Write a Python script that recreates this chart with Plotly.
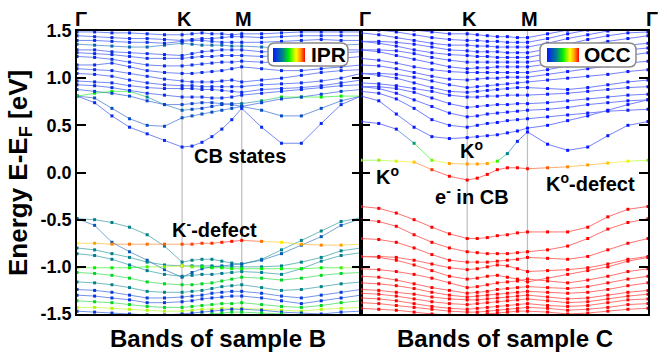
import plotly.graph_objects as go
from plotly.colors import sample_colorscale

# -----------------------------------------------------------------------------
# Data: band energies (eV) along the path G-K-M-G
# -----------------------------------------------------------------------------
K_PATH = [0.0, 0.062, 0.123, 0.185, 0.247, 0.308, 0.370, 0.405, 0.440, 0.475,
          0.510, 0.545, 0.580, 0.650, 0.720, 0.790, 0.860, 0.930, 1.0]
HS_POINTS = [0.370, 0.580]          # K, M
Y_TICKS = [-1.5, -1.0, -0.5, 0.0, 0.5, 1.0, 1.5]
Y_LABELS = ['-1.5', '-1.0', '-0.5', '0.0', '0.5', '1.0', '1.5']

# sample B (colour = IPR)
BANDS_B = [
    [0.81, 0.74, 0.60, 0.48, 0.41, 0.34, 0.27, 0.28, 0.32, 0.38, 0.46, 0.56, 0.68, 0.48, 0.31, 0.31, 0.52, 0.72, 0.81],
    [0.81, 0.79, 0.68, 0.57, 0.50, 0.49, 0.58, 0.60, 0.62, 0.64, 0.66, 0.68, 0.70, 0.66, 0.60, 0.60, 0.68, 0.76, 0.81],
    [0.81, 0.84, 0.86, 0.86, 0.80, 0.72, 0.66, 0.67, 0.68, 0.70, 0.72, 0.73, 0.73, 0.76, 0.80, 0.80, 0.80, 0.81, 0.81],
    [0.88, 0.86, 0.84, 0.81, 0.76, 0.72, 0.72, 0.73, 0.74, 0.74, 0.73, 0.72, 0.70, 0.74, 0.78, 0.80, 0.83, 0.86, 0.88],
    [0.93, 0.92, 0.90, 0.87, 0.84, 0.82, 0.80, 0.80, 0.80, 0.79, 0.79, 0.80, 0.82, 0.84, 0.86, 0.88, 0.90, 0.92, 0.93],
    [0.97, 0.96, 0.95, 0.92, 0.90, 0.89, 0.89, 0.89, 0.88, 0.88, 0.87, 0.86, 0.85, 0.88, 0.89, 0.90, 0.92, 0.95, 0.98],
    [1.05, 1.04, 1.02, 0.98, 0.95, 0.93, 0.92, 0.92, 0.91, 0.91, 0.91, 0.91, 0.91, 0.93, 0.94, 0.95, 0.97, 1.00, 1.05],
    [1.10, 1.09, 1.08, 1.05, 1.02, 0.99, 0.97, 0.96, 0.96, 0.96, 0.97, 0.98, 0.96, 0.98, 1.00, 1.03, 1.06, 1.08, 1.09],
    [1.14, 1.14, 1.16, 1.12, 1.08, 1.06, 1.05, 1.05, 1.06, 1.07, 1.08, 1.10, 1.12, 1.10, 1.08, 1.08, 1.10, 1.12, 1.14],
    [1.23, 1.22, 1.20, 1.17, 1.14, 1.13, 1.13, 1.14, 1.15, 1.16, 1.17, 1.17, 1.18, 1.17, 1.16, 1.17, 1.19, 1.21, 1.23],
    [1.27, 1.26, 1.25, 1.23, 1.21, 1.21, 1.21, 1.22, 1.23, 1.23, 1.24, 1.24, 1.24, 1.23, 1.24, 1.25, 1.26, 1.27, 1.28],
    [1.30, 1.30, 1.28, 1.27, 1.26, 1.25, 1.24, 1.26, 1.28, 1.29, 1.30, 1.30, 1.30, 1.28, 1.28, 1.29, 1.30, 1.30, 1.30],
    [1.36, 1.35, 1.34, 1.33, 1.33, 1.35, 1.37, 1.36, 1.35, 1.35, 1.35, 1.34, 1.34, 1.33, 1.32, 1.33, 1.34, 1.35, 1.36],
    [1.40, 1.40, 1.39, 1.38, 1.38, 1.37, 1.39, 1.40, 1.40, 1.39, 1.38, 1.38, 1.38, 1.38, 1.39, 1.40, 1.41, 1.40, 1.40],
    [1.45, 1.44, 1.43, 1.42, 1.42, 1.41, 1.40, 1.41, 1.42, 1.42, 1.43, 1.44, 1.44, 1.43, 1.44, 1.45, 1.45, 1.45, 1.45],
    [1.49, 1.49, 1.48, 1.48, 1.47, 1.46, 1.46, 1.47, 1.48, 1.47, 1.47, 1.46, 1.47, 1.47, 1.48, 1.49, 1.49, 1.49, 1.49],
    [-0.49, -0.50, -0.53, -0.58, -0.66, -0.78, -0.95, -0.93, -0.92, -0.92, -0.94, -0.96, -0.97, -0.92, -0.82, -0.72, -0.62, -0.52, -0.48],
    [-0.49, -0.56, -0.74, -0.84, -0.93, -1.03, -1.11, -1.06, -1.02, -1.00, -0.99, -0.98, -0.97, -0.93, -0.86, -0.77, -0.68, -0.56, -0.49],
    [-0.75, -0.75, -0.76, -0.76, -0.76, -0.76, -0.76, -0.76, -0.75, -0.75, -0.74, -0.73, -0.72, -0.73, -0.74, -0.76, -0.77, -0.77, -0.76],
    [-0.80, -0.82, -0.86, -0.90, -0.95, -0.98, -0.99, -0.99, -0.99, -0.99, -1.00, -1.00, -1.00, -1.00, -0.99, -0.95, -0.90, -0.83, -0.80],
    [-0.86, -0.88, -0.92, -0.98, -1.04, -1.08, -1.10, -1.09, -1.08, -1.08, -1.07, -1.06, -1.05, -1.06, -1.08, -1.02, -0.94, -0.88, -0.85],
    [-1.01, -1.01, -1.01, -1.01, -1.00, -1.00, -0.99, -1.00, -1.00, -1.01, -1.01, -1.02, -1.02, -1.02, -1.02, -1.02, -1.01, -1.01, -1.01],
    [-1.06, -1.07, -1.09, -1.12, -1.16, -1.18, -1.19, -1.19, -1.18, -1.17, -1.15, -1.13, -1.11, -1.12, -1.14, -1.12, -1.09, -1.07, -1.06],
    [-1.16, -1.17, -1.19, -1.22, -1.26, -1.27, -1.27, -1.26, -1.25, -1.23, -1.21, -1.20, -1.19, -1.22, -1.25, -1.24, -1.21, -1.18, -1.16],
    [-1.24, -1.25, -1.27, -1.30, -1.33, -1.33, -1.32, -1.31, -1.30, -1.28, -1.27, -1.26, -1.26, -1.28, -1.31, -1.33, -1.30, -1.27, -1.24],
    [-1.30, -1.31, -1.33, -1.35, -1.38, -1.38, -1.37, -1.36, -1.34, -1.33, -1.32, -1.31, -1.31, -1.33, -1.36, -1.39, -1.36, -1.33, -1.30],
    [-1.36, -1.37, -1.38, -1.40, -1.42, -1.43, -1.43, -1.42, -1.41, -1.40, -1.39, -1.39, -1.38, -1.40, -1.42, -1.43, -1.41, -1.38, -1.36],
    [-1.43, -1.43, -1.44, -1.45, -1.46, -1.47, -1.47, -1.46, -1.45, -1.45, -1.44, -1.44, -1.44, -1.45, -1.46, -1.47, -1.45, -1.44, -1.43],
    [-1.47, -1.48, -1.49, -1.50, -1.51, -1.51, -1.50, -1.49, -1.48, -1.47, -1.46, -1.45, -1.45, -1.46, -1.48, -1.49, -1.50, -1.48, -1.47],
    [-1.52, -1.52, -1.52, -1.52, -1.52, -1.52, -1.52, -1.52, -1.51, -1.50, -1.49, -1.48, -1.48, -1.49, -1.50, -1.51, -1.52, -1.52, -1.52],
]
IPR_B = [
    0.05, 0.15,
    [0.5, 0.5, 0.5, 0.45, 0.3, 0.25, 0.2, 0.15, 0.12, 0.1, 0.1, 0.15, 0.25, 0.35, 0.45, 0.5, 0.5, 0.5, 0.5],
    0.12, 0.05, 0.05, 0.05, 0.05, 0.05, 0.05, 0.05, 0.05, 0.22, 0.05, 0.05, 0.05,
    0.3, 0.18,
    [0.72, 0.85, 0.88, 0.9, 0.9, 0.92, 0.93, 0.94, 0.95, 0.96, 0.97, 0.98, 0.98, 0.9, 0.75, 0.85, 0.88, 0.85, 0.72],
    0.3, 0.28,
    [0.6, 0.5, 0.5, 0.5, 0.55, 0.6, 0.7, 0.6, 0.5, 0.5, 0.5, 0.5, 0.5, 0.5, 0.5, 0.5, 0.5, 0.55, 0.6],
    0.45, 0.3, 0.1, 0.08, 0.45, 0.65, 0.1, 0.45,
]

# sample C (colour = OCC)
BANDS_C = [
    [0.54, 0.52, 0.46, 0.31, 0.13, 0.095, 0.09, 0.09, 0.095, 0.12, 0.20, 0.33, 0.43, 0.30, 0.235, 0.27, 0.39, 0.50, 0.54],
    [0.13, 0.13, 0.12, 0.11, 0.03, -0.04, -0.08, -0.06, -0.02, 0.03, 0.05, 0.05, 0.04, 0.05, 0.06, 0.08, 0.10, 0.12, 0.13],
    [0.81, 0.76, 0.62, 0.48, 0.38, 0.36, 0.37, 0.38, 0.39, 0.40, 0.42, 0.44, 0.47, 0.50, 0.55, 0.60, 0.66, 0.72, 0.77],
    [0.86, 0.84, 0.78, 0.68, 0.56, 0.50, 0.48, 0.50, 0.52, 0.53, 0.55, 0.56, 0.57, 0.59, 0.61, 0.63, 0.65, 0.66, 0.67],
    [0.91, 0.89, 0.84, 0.77, 0.70, 0.63, 0.59, 0.60, 0.62, 0.63, 0.64, 0.65, 0.66, 0.67, 0.69, 0.72, 0.74, 0.76, 0.77],
    [0.91, 0.91, 0.89, 0.85, 0.79, 0.73, 0.69, 0.70, 0.71, 0.72, 0.72, 0.73, 0.73, 0.74, 0.76, 0.78, 0.80, 0.82, 0.83],
    [0.95, 0.94, 0.92, 0.89, 0.86, 0.82, 0.80, 0.80, 0.81, 0.81, 0.82, 0.82, 0.82, 0.83, 0.84, 0.86, 0.88, 0.90, 0.91],
    [1.05, 1.03, 1.00, 0.95, 0.90, 0.86, 0.85, 0.86, 0.87, 0.88, 0.89, 0.90, 0.90, 0.89, 0.88, 0.90, 0.93, 0.96, 0.98],
    [1.05, 1.05, 1.04, 1.01, 0.97, 0.93, 0.90, 0.91, 0.92, 0.93, 0.94, 0.95, 0.96, 0.98, 1.00, 1.02, 1.04, 1.07, 1.09],
    [1.14, 1.13, 1.10, 1.06, 1.02, 0.99, 0.98, 0.99, 1.00, 1.00, 1.01, 1.01, 1.01, 1.04, 1.07, 1.10, 1.13, 1.16, 1.18],
    [1.21, 1.19, 1.16, 1.12, 1.09, 1.07, 1.06, 1.06, 1.06, 1.06, 1.06, 1.06, 1.06, 1.09, 1.13, 1.17, 1.21, 1.24, 1.27],
    [1.30, 1.28, 1.24, 1.20, 1.16, 1.12, 1.10, 1.11, 1.11, 1.12, 1.12, 1.12, 1.12, 1.15, 1.19, 1.23, 1.27, 1.30, 1.32],
    [1.30, 1.30, 1.29, 1.26, 1.22, 1.19, 1.17, 1.17, 1.17, 1.17, 1.17, 1.17, 1.17, 1.20, 1.25, 1.29, 1.33, 1.35, 1.37],
    [1.39, 1.37, 1.34, 1.30, 1.27, 1.25, 1.24, 1.23, 1.23, 1.22, 1.22, 1.22, 1.22, 1.26, 1.30, 1.35, 1.39, 1.42, 1.45],
    [1.39, 1.39, 1.38, 1.36, 1.33, 1.30, 1.29, 1.28, 1.28, 1.28, 1.27, 1.27, 1.27, 1.31, 1.36, 1.41, 1.45, 1.48, 1.49],
    [1.48, 1.46, 1.43, 1.40, 1.37, 1.35, 1.35, 1.34, 1.34, 1.33, 1.33, 1.33, 1.33, 1.37, 1.42, 1.46, 1.50, 1.52, 1.53],
    [1.52, 1.51, 1.49, 1.46, 1.43, 1.41, 1.40, 1.40, 1.39, 1.39, 1.38, 1.38, 1.38, 1.42, 1.47, 1.51, 1.54, 1.56, 1.57],
    [1.56, 1.55, 1.53, 1.51, 1.49, 1.47, 1.47, 1.46, 1.45, 1.44, 1.44, 1.43, 1.43, 1.47, 1.51, 1.55, 1.58, 1.60, 1.61],
    [-0.36, -0.38, -0.43, -0.50, -0.58, -0.65, -0.70, -0.70, -0.69, -0.67, -0.66, -0.64, -0.63, -0.63, -0.63, -0.58, -0.47, -0.39, -0.36],
    [-0.50, -0.52, -0.57, -0.66, -0.74, -0.80, -0.84, -0.85, -0.86, -0.86, -0.86, -0.85, -0.84, -0.82, -0.78, -0.70, -0.60, -0.53, -0.49],
    [-0.70, -0.71, -0.74, -0.80, -0.87, -0.93, -0.95, -0.95, -0.95, -0.94, -0.93, -0.92, -0.90, -0.91, -0.92, -0.89, -0.82, -0.75, -0.70],
    [-0.89, -0.89, -0.90, -0.93, -0.97, -1.01, -1.03, -1.02, -1.00, -0.98, -0.99, -1.02, -1.05, -1.04, -1.03, -1.01, -0.97, -0.92, -0.89],
    [-0.89, -0.90, -0.93, -0.98, -1.04, -1.10, -1.13, -1.12, -1.10, -1.09, -1.11, -1.13, -1.16, -1.12, -1.08, -1.04, -1.00, -0.94, -0.90],
    [-1.02, -1.03, -1.05, -1.08, -1.12, -1.17, -1.22, -1.21, -1.19, -1.17, -1.16, -1.15, -1.13, -1.15, -1.17, -1.14, -1.10, -1.05, -1.02],
    [-1.10, -1.11, -1.14, -1.18, -1.22, -1.25, -1.28, -1.27, -1.26, -1.24, -1.23, -1.22, -1.21, -1.22, -1.23, -1.21, -1.17, -1.13, -1.10],
    [-1.17, -1.18, -1.20, -1.23, -1.27, -1.30, -1.32, -1.31, -1.30, -1.29, -1.28, -1.27, -1.26, -1.27, -1.28, -1.27, -1.24, -1.20, -1.17],
    [-1.24, -1.25, -1.27, -1.29, -1.32, -1.34, -1.35, -1.35, -1.34, -1.33, -1.32, -1.31, -1.30, -1.32, -1.34, -1.33, -1.30, -1.27, -1.25],
    [-1.28, -1.29, -1.31, -1.34, -1.37, -1.39, -1.40, -1.39, -1.38, -1.37, -1.36, -1.35, -1.34, -1.36, -1.38, -1.37, -1.34, -1.31, -1.29],
    [-1.33, -1.34, -1.36, -1.39, -1.42, -1.44, -1.45, -1.44, -1.43, -1.42, -1.41, -1.40, -1.39, -1.41, -1.42, -1.41, -1.38, -1.35, -1.34],
    [-1.38, -1.39, -1.41, -1.43, -1.45, -1.47, -1.48, -1.48, -1.47, -1.46, -1.45, -1.44, -1.43, -1.44, -1.46, -1.45, -1.43, -1.40, -1.39],
    [-1.44, -1.45, -1.46, -1.48, -1.50, -1.51, -1.52, -1.51, -1.50, -1.49, -1.48, -1.47, -1.47, -1.48, -1.50, -1.49, -1.47, -1.45, -1.44],
]
OCC_C = [
    [0.0, 0.0, 0.02, 0.35, 0.6, 0.85, 0.85, 0.85, 0.85, 0.55, 0.3, 0.05, 0.0, 0.0, 0.0, 0.0, 0.0, 0.0, 0.0],
    [0.6, 0.62, 0.68, 0.8, 0.95, 1.0, 1.0, 1.0, 1.0, 1.0, 1.0, 1.0, 0.98, 0.92, 0.88, 0.86, 0.8, 0.7, 0.6],
    0.0, 0.0, 0.0, 0.0, 0.0, 0.0, 0.0, 0.0, 0.0, 0.0, 0.0, 0.0, 0.0, 0.0, 0.0, 0.0,
    1.0, 1.0, 1.0, 1.0, 1.0, 1.0, 1.0, 1.0, 1.0, 1.0, 1.0, 1.0, 1.0,
]

# -----------------------------------------------------------------------------
# Style
# -----------------------------------------------------------------------------
W, H = 667, 353
FONT = 'Liberation Sans, Arial, sans-serif'
SCALE = [[0.0, '#0818ff'], [0.3, '#00828a'], [0.5, '#00f000'],
         [0.72, '#ffff00'], [0.86, '#ff9a00'], [1.0, '#ff0000']]


def px(x):
    return x / W


def py(y):
    return 1 - y / H


fig = go.Figure()


def add_bands(bands, weights, xa, ya, cax):
    segs = {}
    mx, my, mc = [], [], []
    for e, w in zip(bands, weights):
        c = w if isinstance(w, list) else [w] * len(e)
        for i in range(len(e) - 1):
            b = round((c[i] + c[i + 1]) / 2 * 20) / 20
            sx, sy = segs.setdefault(b, ([], []))
            sx.extend([K_PATH[i], K_PATH[i + 1], None])
            sy.extend([e[i], e[i + 1], None])
        mx += K_PATH
        my += e
        mc += c
    for b, (sx, sy) in sorted(segs.items()):
        fig.add_trace(go.Scatter(
            x=sx, y=sy, mode='lines', xaxis=xa, yaxis=ya, opacity=0.55,
            line=dict(color=sample_colorscale(SCALE, [b])[0], width=1),
            hoverinfo='skip', showlegend=False))
    fig.add_trace(go.Scatter(
        x=mx, y=my, mode='markers', xaxis=xa, yaxis=ya, showlegend=False,
        marker=dict(symbol='square', size=3, color=mc, coloraxis=cax)))


add_bands(BANDS_B, IPR_B, 'x', 'y', 'coloraxis')
add_bands(BANDS_C, OCC_C, 'x2', 'y2', 'coloraxis2')

# -----------------------------------------------------------------------------
# Layout
# -----------------------------------------------------------------------------
ydom = [py(314), py(31)]
axis_common = dict(showline=True, linecolor='black', linewidth=1.5, mirror=True,
                   showgrid=False, zeroline=False)
yaxis_common = dict(axis_common, range=[-1.5, 1.5], tickvals=Y_TICKS, ticktext=Y_LABELS,
                    ticks='inside', ticklen=9, tickwidth=1.5, tickcolor='black',
                    mirror='allticks', domain=ydom)


def cbar(x0, y0):
    return dict(orientation='h', lenmode='pixels', len=32, thickness=14,
                x=px(x0), xanchor='left', y=py(y0), yanchor='top',
                showticklabels=False, ticks='', outlinewidth=0, xpad=0, ypad=0)


fig.update_layout(
    width=W, height=H, margin=dict(l=0, r=0, t=0, b=0, pad=0, autoexpand=False),
    paper_bgcolor='white', plot_bgcolor='white',
    font=dict(family=FONT, color='black'),
    xaxis=dict(axis_common, domain=[px(77), px(361)], range=[0, 1],
               showticklabels=False, ticks='', anchor='y'),
    yaxis=dict(yaxis_common, anchor='x',
               tickfont=dict(family=FONT, size=18, weight='bold')),
    xaxis2=dict(axis_common, domain=[px(361), px(648)], range=[0, 1],
                showticklabels=False, ticks='', anchor='y2'),
    yaxis2=dict(yaxis_common, anchor='x2', showticklabels=False),
    coloraxis=dict(colorscale=SCALE, cmin=0, cmax=1, colorbar=cbar(273, 48)),
    coloraxis2=dict(colorscale=SCALE, cmin=0, cmax=1, colorbar=cbar(547, 48)),
)

# gray lines at K and M
for xa in ['x', 'x2']:
    for k in HS_POINTS:
        fig.add_shape(type='line', xref=xa, yref=xa.replace('x', 'y') + ' domain',
                      x0=k, x1=k, y0=0, y1=1, layer='below',
                      line=dict(color='#bdbdbd', width=1.2))


def rounded_box(x0, y0, x1, y1, r=7):
    rx, ry = r / W, r / H
    a, b, c, d = px(x0), py(y1), px(x1), py(y0)
    path = (f'M {a + rx},{b} L {c - rx},{b} Q {c},{b} {c},{b + ry} '
            f'L {c},{d - ry} Q {c},{d} {c - rx},{d} L {a + rx},{d} '
            f'Q {a},{d} {a},{d - ry} L {a},{b + ry} Q {a},{b} {a + rx},{b} Z')
    fig.add_shape(type='path', path=path, xref='paper', yref='paper', layer='above',
                  fillcolor='white', line=dict(color='#8a8a8a', width=1.5))


rounded_box(268, 43, 348, 66)
rounded_box(540, 43, 636, 67)


def label(text, x, y, size=20, **kw):
    fig.add_annotation(text=text, x=px(x), y=py(y), xref='paper', yref='paper',
                       xanchor='center', yanchor='middle', showarrow=False,
                       font=dict(family=FONT, size=size, weight='bold', color='black'), **kw)


label('IPR', 328, 55, 21)
label('OCC', 607, 55, 21)

# high-symmetry labels on top
HS_LABELS = ['Γ', 'K', 'M', 'Γ']
for xa, ends in [('x', [0.0] + HS_POINTS), ('x2', [0.0] + HS_POINTS + [1.0])]:
    for k, t in zip(ends, HS_LABELS):
        fig.add_annotation(text=t, x=k, y=py(19), xref=xa + ' domain', yref='paper',
                           xanchor='center', yanchor='middle', showarrow=False,
                           xshift=4 if t == 'Γ' else 2,
                           font=dict(family=FONT, size=20, weight='bold', color='black'))

# band annotations
label('CB states', 240, 156)
label('K<sup>-</sup>-defect', 214, 228)
label('K<sup>o</sup>', 471, 150)
label('K<sup>o</sup>', 387, 176)
label('e<sup>-</sup> in CB', 472, 195)
label('K<sup>o</sup>-defect', 590, 182)

# axis titles
label('Energy E-E<sub>F</sub> [eV]', 19, 173, 26, textangle=-90)
label('Bands of sample B', 218, 338, 24)
label('Bands of sample C', 505, 338, 24)

# the page body has a default margin; drop it so the figure sits at the corner
fig.write_html('out.html', config={'displayModeBar': False},
               post_script="document.body.style.margin='0';")
